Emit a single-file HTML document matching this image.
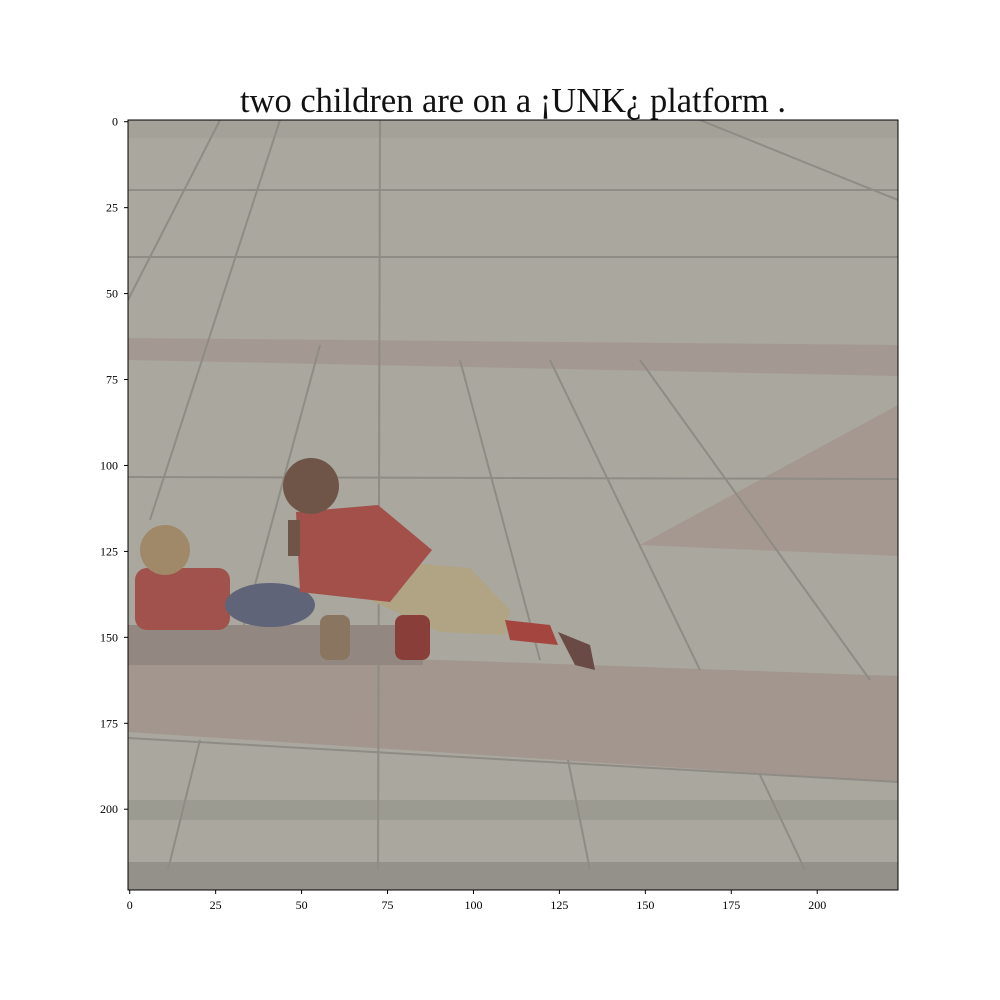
<!DOCTYPE html>
<html><head><meta charset="utf-8"><style>
html,body{margin:0;padding:0;background:#fff;}
svg{display:block;font-family:"Liberation Serif",serif;}
</style></head><body>
<svg id="chart" width="1000" height="1000" viewBox="0 0 1000 1000" xmlns="http://www.w3.org/2000/svg">
<defs><clipPath id="ax"><rect x="128" y="120" width="770" height="770"/></clipPath></defs>
<text x="513" y="112" font-size="34.5" text-anchor="middle" fill="#111">two children are on a ¡UNK¿ platform .</text>
<g clip-path="url(#ax)">
  <rect x="128" y="120" width="770" height="770" fill="#a9a79e"/>
  <rect x="128" y="120" width="770" height="18" fill="#a3a198"/>
  <polygon points="128,338 898,345 898,376 128,360" fill="#a49992"/>
  <polygon points="898,405 640,545 898,556" fill="#a59891"/>
  <polygon points="128,650 500,662 898,676 898,782 128,732" fill="#a2968f"/>
  <rect x="128" y="800" width="770" height="20" fill="#9c9b92"/>
  <rect x="128" y="862" width="770" height="28" fill="#93918a"/>
  <g stroke="#8e8c84" stroke-width="2" fill="none">
    <line x1="128" y1="190" x2="898" y2="190"/>
    <line x1="128" y1="257" x2="898" y2="257"/>
    <line x1="128" y1="477" x2="898" y2="479"/>
    <line x1="128" y1="738" x2="898" y2="782"/>
    <line x1="380" y1="120" x2="378" y2="870"/>
    <line x1="280" y1="120" x2="150" y2="520"/>
    <line x1="220" y1="120" x2="128" y2="300"/>
    <line x1="320" y1="345" x2="240" y2="640"/>
    <line x1="460" y1="360" x2="540" y2="660"/>
    <line x1="550" y1="360" x2="700" y2="670"/>
    <line x1="640" y1="360" x2="870" y2="680"/>
    <line x1="200" y1="740" x2="168" y2="870"/>
    <line x1="568" y1="760" x2="590" y2="870"/>
    <line x1="760" y1="775" x2="805" y2="870"/>
    <line x1="700" y1="120" x2="898" y2="200"/>
  </g>
  <g>
    <rect x="128" y="625" width="295" height="40" fill="#928881"/>
    <rect x="135" y="568" width="95" height="62" rx="12" fill="#a2524c"/>
    <circle cx="165" cy="550" r="25" fill="#a08968"/>
    <ellipse cx="270" cy="605" rx="45" ry="22" fill="#5f6478"/>
    <polygon points="372,560 470,568 510,610 505,635 440,632 370,600" fill="#b0a484"/>
    <polygon points="296,512 378,505 432,550 390,602 300,592" fill="#a3504a"/>
    <circle cx="311" cy="486" r="28" fill="#6e5548"/>
    <rect x="288" y="520" width="12" height="36" fill="#6e5548"/>
    <polygon points="505,620 550,625 558,645 510,640" fill="#a4463f"/>
    <polygon points="558,632 590,645 595,670 575,665" fill="#6a4a44"/>
    <rect x="395" y="615" width="35" height="45" rx="8" fill="#8a3e3a"/>
    <rect x="320" y="615" width="30" height="45" rx="8" fill="#8a7660"/>
  </g>
</g>
<rect x="128" y="120" width="770" height="770" fill="none" stroke="#000" stroke-width="1"/>
<g id="xt"></g>
<g id="yt"></g>
<script>
const xTicks = [0,25,50,75,100,125,150,175,200];
const yTicks = [0,25,50,75,100,125,150,175,200];
const NS="http://www.w3.org/2000/svg";
const s = 770/224;
function px(u){return 128+(u+0.5)*s;}
function py(u){return 120+(u+0.5)*s;}
const xt=document.getElementById('xt'), yt=document.getElementById('yt');
xTicks.forEach(v=>{
  const l=document.createElementNS(NS,'line');
  
  
  l.setAttribute('x1',px(v));l.setAttribute('x2',px(v));l.setAttribute('y1',890);l.setAttribute('y2',894);l.setAttribute('stroke','#000');
  xt.appendChild(l);
  const t=document.createElementNS(NS,'text');
  
  
  t.setAttribute('x',px(v));t.setAttribute('y',909);t.setAttribute('font-size','12');t.setAttribute('text-anchor','middle');
  t.textContent=v;xt.appendChild(t);
});
yTicks.forEach(v=>{
  const l=document.createElementNS(NS,'line');
  
  
  l.setAttribute('x1',124);l.setAttribute('x2',128);l.setAttribute('y1',py(v));l.setAttribute('y2',py(v));l.setAttribute('stroke','#000');
  yt.appendChild(l);
  const t=document.createElementNS(NS,'text');
  
  
  t.setAttribute('x',118);t.setAttribute('y',py(v)+4);t.setAttribute('font-size','12');t.setAttribute('text-anchor','end');
  t.textContent=v;yt.appendChild(t);
});
</script>
</svg>
</body></html>
